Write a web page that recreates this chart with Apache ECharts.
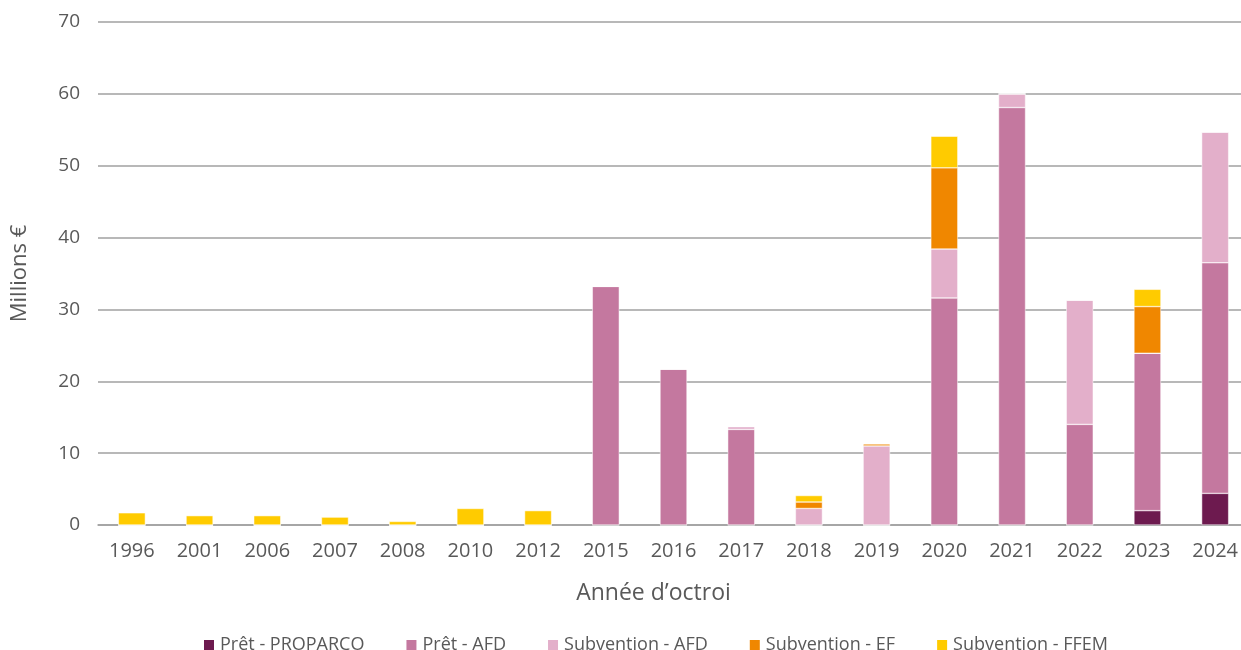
<!DOCTYPE html>
<html>
<head>
<meta charset="utf-8">
<script src="https://cdn.jsdelivr.net/npm/echarts@6/dist/echarts.min.js"></script>
<style>
	html, body { margin: 0; padding: 0; background: #fff; }
	#chart { width: 1241px; height: 650px; }
</style>
</head>
<body>
<div id="chart"></div>
<script>
var years = ['1996', '2001', '2006', '2007', '2008', '2010', '2012', '2015', '2016',
	'2017', '2018', '2019', '2020', '2021', '2022', '2023', '2024'];

var pretProparco = [0, 0, 0, 0, 0, 0, 0, 0, 0, 0, 0, 0, 0, 0, 0, 2.0, 4.4];
var pretAfd      = [0, 0, 0, 0, 0, 0, 0, 33.2, 21.7, 13.3, 0, 0, 31.6, 58.1, 14.0, 21.9, 32.1];
var subvAfd      = [0, 0, 0, 0, 0, 0, 0, 0, 0, 0.4, 2.3, 11.0, 6.8, 1.9, 17.3, 0, 18.2];
var subvEf       = [0, 0, 0, 0, 0, 0, 0, 0, 0, 0, 0.9, 0.3, 11.3, 0, 0, 6.5, 0];
var subvFfem     = [1.7, 1.3, 1.3, 1.1, 0.5, 2.3, 2.0, 0, 0, 0, 0.9, 0, 4.4, 0, 0, 2.4, 0];

var yTicks = [0, 10, 20, 30, 40, 50, 60, 70];

var fontName = 'Open Sans';
var textColor = '#595959';

function bar(name, data, color) {
	return {
		name: name,
		type: 'bar',
		stack: 'total',
		data: data,
		barWidth: 27,
		itemStyle: {
			color: color,
			borderColor: '#ffffff',
			borderWidth: 0.5
		}
	};
}

var myChart = echarts.init(document.getElementById('chart'));
myChart.setOption({
	animation: false,
	textStyle: { fontFamily: fontName, color: textColor },
	grid: {
		left: 98,
		top: 22,
		width: 1151,
		height: 503,
		outerBoundsMode: 'none',
		containLabel: false
	},
	legend: {
		top: 631,
		left: 197,
		itemWidth: 12,
		itemHeight: 12,
		itemGap: 40,
		icon: 'rect',
		textStyle: { fontFamily: fontName, fontSize: 18, color: textColor },
		data: ['Prêt - PROPARCO', 'Prêt - AFD', 'Subvention - AFD', 'Subvention - EF', 'Subvention - FFEM']
	},
	xAxis: {
		type: 'category',
		data: years,
		name: 'Année d’octroi',
		nameLocation: 'middle',
		nameGap: 57,
		nameTextStyle: { fontFamily: fontName, fontSize: 23, color: textColor, padding: [0, 40, 0, 0] },
		axisTick: { show: false },
		axisLine: { lineStyle: { color: '#a0a0a0', width: 1.5 } },
		axisLabel: { fontSize: 20, color: textColor, margin: 16 }
	},
	yAxis: {
		type: 'value',
		min: yTicks[0],
		max: yTicks[yTicks.length - 1],
		interval: 10,
		name: 'Millions €',
		nameLocation: 'middle',
		nameGap: 67,
		nameTextStyle: { fontFamily: fontName, fontSize: 22, color: textColor },
		axisLine: { show: false },
		axisTick: { show: false },
		axisLabel: { fontSize: 19, color: textColor, margin: 18 },
		splitLine: { lineStyle: { color: '#a0a0a0', width: 1.5 } }
	},
	series: [
		bar('Prêt - PROPARCO', pretProparco, '#6d1a4f'),
		bar('Prêt - AFD', pretAfd, '#c4789f'),
		bar('Subvention - AFD', subvAfd, '#e3afca'),
		bar('Subvention - EF', subvEf, '#f08700'),
		bar('Subvention - FFEM', subvFfem, '#ffcb00')
	]
});
</script>
</body>
</html>
